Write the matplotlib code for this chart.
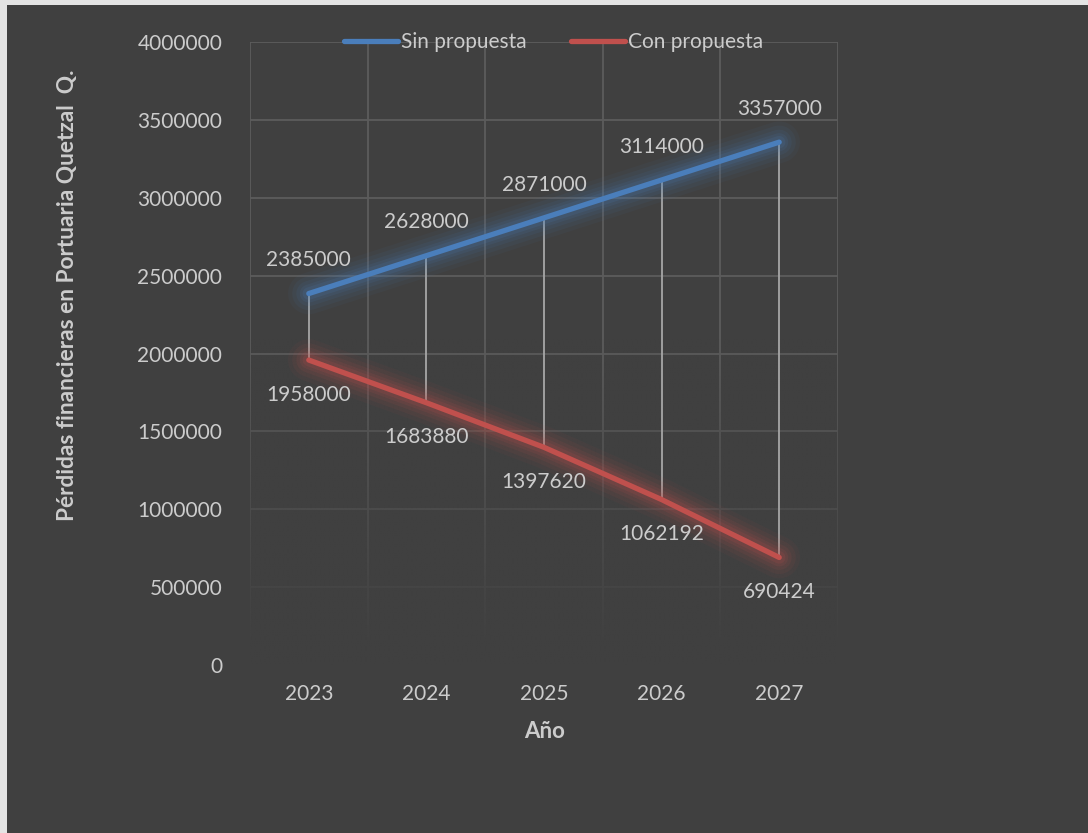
import numpy as np
import matplotlib
matplotlib.use("Agg")
import matplotlib.pyplot as plt
from matplotlib.patches import Rectangle

# Data
years = ["2023", "2024", "2025", "2026", "2027"]
sin_propuesta = [2385000, 2628000, 2871000, 3114000, 3357000]
con_propuesta = [1958000, 1683880, 1397620, 1062192, 690424]
y_ticks = [0, 500000, 1000000, 1500000, 2000000, 2500000, 3000000, 3500000, 4000000]

BG = "#404040"
GRID = "#5c5c5c"
TEXT = "#cccccc"
BLUE = "#4a7ebb"
RED = "#c0504d"
FONT = "Lato"

plt.rcParams["font.family"] = [FONT, "DejaVu Sans"]

W, H = 1088, 833
fig = plt.figure(figsize=(W / 100, H / 100), dpi=100, facecolor="#e4e4e4")
# dark chart area inside the thin light frame
fig.patches.append(Rectangle((7 / W, 0), 1 - 7 / W, 1 - 5 / H,
                             transform=fig.transFigure, facecolor=BG,
                             edgecolor="none", zorder=-10))

left, right, top, bottom = 250, 838, 42, 665
ax = fig.add_axes([left / W, 1 - bottom / H, (right - left) / W, (bottom - top) / H])
ax.set_zorder(1)
ax.set_facecolor("none")
for s in ax.spines.values():
    s.set_visible(False)

x = np.arange(len(years))
ax.set_xlim(-0.5, len(years) - 0.5)
ax.set_ylim(0, 4000000)

# gridlines (horizontal at ticks, vertical at category boundaries)
for yv in y_ticks:
    ax.axhline(yv, color=GRID, lw=1.3, zorder=1)
for xv in np.arange(-0.5, len(years), 1.0):
    ax.axvline(xv, color=GRID, lw=1.3, zorder=1)

# fade the grid toward the bottom of the plot
grad = np.zeros((200, 2, 4))
rgb = matplotlib.colors.to_rgb(BG)
grad[..., 0], grad[..., 1], grad[..., 2] = rgb
yy = np.linspace(4000000, 0, 200)
alpha = np.clip((2100000 - yy) / 2000000, 0, 1)
grad[..., 3] = alpha[:, None]
ax.imshow(grad, extent=(-0.5, len(years) - 0.5, 0, 4000000), aspect="auto",
          zorder=1.5, interpolation="bilinear")

# high-low connectors
ax.vlines(x, con_propuesta, sin_propuesta, color="#a6a6a6", lw=1.3, zorder=2)

# soft glow beneath each series
for vals, col in ((sin_propuesta, BLUE), (con_propuesta, RED)):
    for w, a in ((30, 0.05), (24, 0.07), (18, 0.09), (13, 0.11), (9, 0.14)):
        ax.plot(x, vals, color=col, lw=w, alpha=a, solid_capstyle="round",
                solid_joinstyle="round", zorder=2.5)

l1, = ax.plot(x, sin_propuesta, color=BLUE, lw=3.8, solid_capstyle="round",
              zorder=3, label="Sin propuesta")
l2, = ax.plot(x, con_propuesta, color=RED, lw=3.8, solid_capstyle="round",
              zorder=3, label="Con propuesta")

# data labels
for xi, v in zip(x, sin_propuesta):
    ax.annotate(f"{v}", (xi, v), xytext=(0, 24), textcoords="offset points",
                ha="center", va="center", color=TEXT, fontsize=15, zorder=4)
for xi, v in zip(x, con_propuesta):
    ax.annotate(f"{v}", (xi, v), xytext=(0, -25), textcoords="offset points",
                ha="center", va="center", color=TEXT, fontsize=15, zorder=4)

# axes ticks and labels
ax.set_xticks(x)
ax.set_xticklabels(years)
ax.set_yticks(y_ticks)
ax.set_yticklabels([str(t) for t in y_ticks])
ax.tick_params(axis="both", length=0, colors=TEXT, labelsize=15)
ax.tick_params(axis="y", pad=20)
ax.tick_params(axis="x", pad=14)

fig.text(545 / W, 1 - 732 / H, "Año", ha="center", va="center",
         color=TEXT, fontsize=16, fontweight="bold")
fig.text(68 / W, 1 - 295 / H, "Pérdidas financieras en Portuaria Quetzal  Q.",
         ha="center", va="center", rotation=90, color=TEXT, fontsize=16.3,
         fontweight="bold")

leg = ax.legend(handles=[l1, l2], loc="center", bbox_to_anchor=(0.516, 1.0),
                ncol=2, frameon=False, fontsize=15, handlelength=2.6,
                handletextpad=0.15, columnspacing=2.1, labelcolor=TEXT,
                borderaxespad=0)
leg.set_zorder(5)

fig.savefig("out.png", dpi=100, facecolor=fig.get_facecolor())
